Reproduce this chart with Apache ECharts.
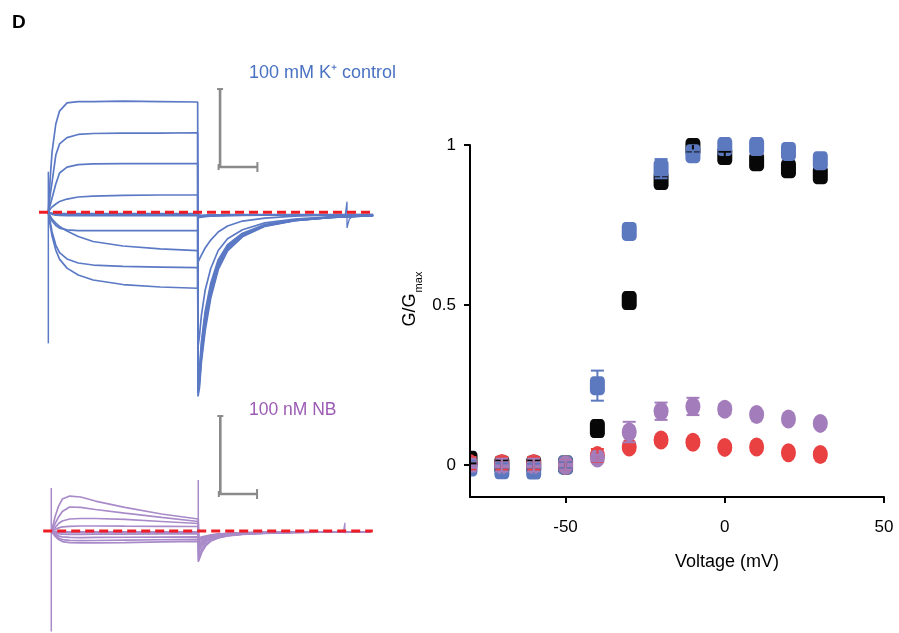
<!DOCTYPE html>
<html><head><meta charset="utf-8">
<script src="https://cdn.jsdelivr.net/npm/echarts@6/dist/echarts.min.js"></script>
<style>html,body{margin:0;padding:0;background:#fff}#c{width:899px;height:633px}</style>
</head><body><div id="c"></div>
<script>
// ===== Right panel: normalised conductance vs voltage =====
const voltages   = [-80, -70, -60, -50, -40, -30, -20, -10, 0, 10, 20, 30];
const gBlack     = [0.015, 0.0, 0.0, 0.0, 0.114, 0.514, 0.889, 0.992, 0.967, 0.948, 0.926, 0.907];
const gBlue      = [-0.006, -0.015, -0.016, 0.0, 0.248, 0.730, 0.926, 0.973, 0.995, 0.995, 0.980, 0.951];
const gRed       = [0.005, 0.005, 0.005, 0.0, 0.030, 0.056, 0.078, 0.071, 0.055, 0.056, 0.038, 0.033];
const gPurple    = [0.0, 0.0, 0.0, 0.0, 0.022, 0.103, 0.168, 0.183, 0.174, 0.158, 0.144, 0.130];
const semBlack   = [0.010, 0.015, 0.015, 0.012, 0.010, 0.015, 0.010, 0.012, 0.012, 0.010, 0.010, 0.008];
const semBlue    = [0.020, 0.020, 0.020, 0.010, 0.047, 0.010, 0.030, 0.010, 0.010, 0.010, 0.010, 0.010];
const semRed     = [0.020, 0.020, 0.020, 0.015, 0.020, 0.010, 0.010, 0.010, 0.010, 0.010, 0.010, 0.010];
const semPurple  = [0.020, 0.020, 0.020, 0.015, 0.010, 0.032, 0.027, 0.027, 0.015, 0.010, 0.010, 0.010];
const xTicks     = [-50, 0, 50];
const yTicks     = [0, 0.5, 1];

// ===== Left panels: current traces (time in ms, current in µA) =====
const tPulse = [0, 5, 10, 20, 30, 50, 80, 120, 200, 300, 400];
const tTail  = [401, 405, 410, 420, 435, 455, 480, 520, 580, 660, 760, 870];

// 100 mM K+ control — during the step
const ctlA = [0, 2.19, 3.87, 5.66, 6.49, 7.01, 7.10, 7.10, 7.13, 7.10, 7.07];
const ctlB = [0, 1.11, 1.94, 3.67, 4.38, 4.79, 4.99, 5.05, 5.08, 5.08, 5.10];
const ctlC = [0, 0.47, 0.92, 1.81, 2.52, 2.90, 3.06, 3.10, 3.12, 3.12, 3.12];
const ctlD = [0, 0.21, 0.34, 0.53, 0.69, 0.85, 0.98, 1.04, 1.08, 1.11, 1.11];
const ctlE1 = [0, -0.03, -0.05, -0.07, -0.08, -0.08, -0.09, -0.09, -0.09, -0.09, -0.09];
const ctlE2 = [0, -0.05, -0.10, -0.13, -0.15, -0.16, -0.17, -0.17, -0.17, -0.17, -0.17];
const ctlE3 = [0, -0.07, -0.13, -0.18, -0.20, -0.22, -0.22, -0.22, -0.22, -0.22, -0.22];
const ctlE4 = [0, -0.04, -0.08, -0.11, -0.12, -0.12, -0.13, -0.13, -0.13, -0.13, -0.13];
const ctlF = [0, -0.30, -0.56, -0.85, -1.01, -1.13, -1.17, -1.18, -1.18, -1.18, -1.18];
const ctlG = [0, -0.24, -0.43, -0.69, -0.91, -1.20, -1.55, -1.87, -2.16, -2.35, -2.46];
const ctlH = [0, -0.62, -1.26, -2.10, -2.58, -2.99, -3.25, -3.38, -3.47, -3.51, -3.55];
const ctlI = [0, -0.83, -1.52, -2.42, -3.00, -3.58, -4.02, -4.34, -4.63, -4.79, -4.87];
// 100 mM K+ control — tail currents
const ctlTailA = [-11.8, -11.2, -9.6, -7.6, -5.5, -3.68, -2.48, -1.57, -0.90, -0.54, -0.33, -0.21];
const ctlTailB = [-11.6, -10.9, -9.3, -7.3, -5.3, -3.55, -2.40, -1.52, -0.88, -0.53, -0.33, -0.21];
const ctlTailC = [-11.4, -10.7, -9.1, -7.1, -5.15, -3.45, -2.33, -1.48, -0.86, -0.52, -0.32, -0.21];
const ctlTailD = [-11.2, -10.5, -8.9, -6.9, -5.0, -3.35, -2.27, -1.45, -0.84, -0.51, -0.32, -0.20];
const ctlTailE1 = [-0.25, -0.24, -0.23, -0.21, -0.19, -0.18, -0.17, -0.16, -0.16, -0.16, -0.16, -0.16];
const ctlTailE2 = [-0.30, -0.29, -0.27, -0.25, -0.23, -0.21, -0.20, -0.19, -0.18, -0.18, -0.18, -0.18];
const ctlTailE3 = [-0.35, -0.33, -0.31, -0.28, -0.25, -0.23, -0.21, -0.20, -0.19, -0.19, -0.19, -0.19];
const ctlTailE4 = [-0.20, -0.20, -0.19, -0.18, -0.17, -0.16, -0.15, -0.15, -0.15, -0.15, -0.15, -0.15];
const ctlTailF = [-11.0, -10.3, -8.6, -6.6, -4.75, -3.20, -2.17, -1.39, -0.81, -0.50, -0.31, -0.20];
const ctlTailG = [-10.8, -10.0, -8.3, -6.35, -4.55, -3.05, -2.08, -1.34, -0.79, -0.49, -0.31, -0.20];
const ctlTailH = [-8.6, -7.9, -6.6, -5.0, -3.6, -2.45, -1.70, -1.12, -0.68, -0.43, -0.28, -0.19];
const ctlTailI = [-3.19, -2.99, -2.74, -2.29, -1.78, -1.26, -0.88, -0.56, -0.37, -0.24, -0.17, -0.14];
const ctlSpikeT = [0, 0];
const ctlSpikeI = [2.6, -8.4];
const ctlArtT = [795, 800, 800, 806, 815];
const ctlArtI = [-0.25, 0.68, -1.0, -0.45, -0.25];

// 100 nM NB — during the step
const nbA = [0, 0.38, 0.90, 1.60, 2.05, 2.24, 2.18, 1.92, 1.51, 1.09, 0.77];
const nbB = [0, 0.19, 0.45, 0.90, 1.25, 1.54, 1.51, 1.38, 1.15, 0.87, 0.61];
const nbC = [0, 0.10, 0.22, 0.48, 0.64, 0.77, 0.80, 0.80, 0.74, 0.61, 0.48];
const nbD = [0, 0.05, 0.10, 0.20, 0.26, 0.30, 0.32, 0.32, 0.31, 0.30, 0.29];
const nbE = [0, 0.0, -0.02, -0.03, -0.04, -0.05, -0.05, -0.05, -0.05, -0.05, -0.05];
const nbF = [0, -0.03, -0.06, -0.09, -0.10, -0.10, -0.10, -0.10, -0.10, -0.10, -0.10];
const nbG = [0, -0.06, -0.12, -0.18, -0.20, -0.21, -0.21, -0.20, -0.20, -0.19, -0.19];
const nbH = [0, -0.10, -0.20, -0.32, -0.38, -0.41, -0.42, -0.41, -0.40, -0.39, -0.38];
const nbI = [0, -0.13, -0.27, -0.45, -0.55, -0.60, -0.62, -0.61, -0.59, -0.56, -0.54];
const nbJ = [0, -0.16, -0.33, -0.55, -0.68, -0.74, -0.76, -0.76, -0.74, -0.70, -0.67];
// 100 nM NB — tail currents
const nbTailA = [-1.92, -1.67, -1.35, -0.96, -0.64, -0.45, -0.32, -0.22, -0.15, -0.10, -0.06, -0.05];
const nbTailB = [-1.75, -1.52, -1.24, -0.88, -0.59, -0.42, -0.30, -0.21, -0.14, -0.09, -0.06, -0.05];
const nbTailC = [-1.60, -1.40, -1.15, -0.82, -0.55, -0.39, -0.28, -0.20, -0.14, -0.09, -0.06, -0.05];
const nbTailD = [-1.30, -1.15, -0.95, -0.68, -0.46, -0.33, -0.24, -0.17, -0.12, -0.08, -0.06, -0.05];
const nbTailE = [-0.45, -0.42, -0.38, -0.32, -0.25, -0.19, -0.15, -0.12, -0.09, -0.07, -0.06, -0.05];
const nbTailF = [-0.55, -0.50, -0.45, -0.36, -0.28, -0.21, -0.16, -0.12, -0.09, -0.07, -0.06, -0.05];
const nbTailG = [-0.70, -0.62, -0.52, -0.39, -0.28, -0.21, -0.16, -0.12, -0.09, -0.07, -0.06, -0.05];
const nbTailH = [-0.85, -0.76, -0.64, -0.47, -0.33, -0.24, -0.18, -0.13, -0.10, -0.07, -0.06, -0.05];
const nbTailI = [-1.00, -0.88, -0.73, -0.53, -0.37, -0.27, -0.20, -0.15, -0.11, -0.08, -0.06, -0.05];
const nbTailJ = [-1.15, -1.02, -0.85, -0.61, -0.42, -0.30, -0.22, -0.16, -0.11, -0.08, -0.06, -0.05];
const nbSpikeT = [0, 0, 400, 400];
const nbSpikeI = [2.76, -6.45, 3.27, -1.99];
const nbArtT = [795, 799, 799, 805];
const nbArtI = [-0.05, 0.53, -0.13, -0.05];

// scale bars: [time origin ms, current origin µA]; lengths 100 ms, 5 µA
const ctlScaleOrigin = [460, 2.9];
const nbScaleOrigin  = [460, 2.37];
const scaleMs = 100, scaleUA = 5;
const baselineCtl = [-25, 875];
const baselineNb  = [-22, 875];

// ===== styling =====
const FONT = '"Liberation Sans", Arial, Helvetica, sans-serif';
const BLUE_TRACE = '#5b79c4';
const NB_TRACE = '#a98bc9';
const DASH_RED = '#ee1c24';
const zip = (a, b) => a.map((v, i) => [v, b[i]]);

function trace(pulse, tail, axis, color) {
  return {
    type: 'line', xAxisIndex: axis, yAxisIndex: axis, silent: true,
    data: zip(tPulse, pulse).concat(zip(tTail, tail)),
    symbol: 'none', clip: false, z: 2,
    lineStyle: { color: color, width: 1.7 }
  };
}
function plain(data, axis, color, width) {
  return { type: 'line', xAxisIndex: axis, yAxisIndex: axis, silent: true, data: data,
    symbol: 'none', clip: false, z: 2, lineStyle: { color: color, width: width } };
}
function baseline(xs, axis) {
  return { type: 'line', xAxisIndex: axis, yAxisIndex: axis, silent: true,
    data: xs.map(x => [x, 0]), symbol: 'none', clip: false, z: 6,
    lineStyle: { color: DASH_RED, width: 3, type: [9, 5] } };
}
function scaleBar(origin, axis) {
  return {
    type: 'custom', xAxisIndex: axis, yAxisIndex: axis, silent: true, z: 4, clip: false,
    data: [[origin[0], origin[1], origin[0] + scaleMs, origin[1] + scaleUA]],
    encode: { x: [0, 2], y: [1, 3] },
    renderItem: (params, api) => {
      const c = api.coord([api.value(0), api.value(1)]);
      const top = api.coord([api.value(0), api.value(3)]);
      const r = api.coord([api.value(2), api.value(1)]);
      const st = { stroke: '#8a8a8a', lineWidth: 2.6, fill: null };
      const cap = { stroke: '#8a8a8a', lineWidth: 2 };
      return { type: 'group', children: [
        { type: 'polyline', shape: { points: [top, c, r] }, style: st },
        { type: 'line', shape: { x1: top[0] - 3, y1: top[1], x2: top[0] + 3, y2: top[1] }, style: cap },
        { type: 'line', shape: { x1: c[0] - 1.5, y1: c[1] - 3, x2: c[0] - 1.5, y2: c[1] + 3 }, style: cap },
        { type: 'line', shape: { x1: r[0], y1: r[1] - 5, x2: r[0], y2: r[1] + 5 }, style: cap }
      ] };
    }
  };
}
function errBars(vals, sems, color, z) {
  return {
    type: 'custom', xAxisIndex: 2, yAxisIndex: 2, silent: true, z: z, clip: true,
    data: voltages.map((v, i) => [v, vals[i] - sems[i], vals[i] + sems[i]]),
    encode: { x: 0, y: [1, 2] },
    renderItem: (params, api) => {
      const x = api.value(0);
      const lo = api.coord([x, api.value(1)]);
      const hi = api.coord([x, api.value(2)]);
      const w = 6.5;
      const st = { stroke: color, lineWidth: 2 };
      return { type: 'group', children: [
        { type: 'line', shape: { x1: lo[0], y1: lo[1], x2: hi[0], y2: hi[1] }, style: st },
        { type: 'line', shape: { x1: lo[0] - w, y1: lo[1], x2: lo[0] + w, y2: lo[1] }, style: st },
        { type: 'line', shape: { x1: hi[0] - w, y1: hi[1], x2: hi[0] + w, y2: hi[1] }, style: st }
      ] };
    }
  };
}
function points(vals, symbol, color, z) {
  return { type: 'scatter', xAxisIndex: 2, yAxisIndex: 2, silent: true, z: z, clip: true,
    data: zip(voltages, vals), symbol: symbol, symbolSize: [15, 19],
    itemStyle: { color: color, opacity: 1 } };
}

const hiddenX = (min, max) => ({ type: 'value', min, max, show: false, splitLine: { show: false } });
const option = {
  animation: false,
  backgroundColor: '#fff',
  grid: [
    { left: 39, top: 56.3, width: 336, height: 343.2 },
    { left: 43.2, top: 406.2, width: 329.6, height: 226.2 },
    { left: 470, top: 145, width: 414, height: 352 }
  ],
  xAxis: [
    { gridIndex: 0, ...hiddenX(-25, 875) },
    { gridIndex: 1, ...hiddenX(-22, 875) },
    { gridIndex: 2, type: 'value', min: -80, max: 50, z: 60,
      axisLine: { show: true, onZero: false, lineStyle: { color: '#000', width: 2 } },
      axisTick: { show: true, length: 6, customValues: xTicks, lineStyle: { color: '#000', width: 2 } },
      axisLabel: { customValues: xTicks, color: '#000', fontSize: 17, fontFamily: FONT, margin: 22 },
      splitLine: { show: false } }
  ],
  yAxis: [
    { gridIndex: 0, ...hiddenX(-12, 10) },
    { gridIndex: 1, ...hiddenX(-6.5, 8) },
    { gridIndex: 2, type: 'value', min: -0.1, max: 1, z: 60,
      axisLine: { show: true, onZero: false, lineStyle: { color: '#000', width: 2 } },
      axisTick: { show: true, length: 6, customValues: yTicks, lineStyle: { color: '#000', width: 2 } },
      axisLabel: { customValues: yTicks, color: '#000', fontSize: 17, fontFamily: FONT, margin: 14 },
      splitLine: { show: false } }
  ],
  graphic: [
    // mask so the markers at the axis extent show only their inner half, as in the source figure
    { type: 'rect', z: 50, shape: { x: 460.5, y: 430, width: 9, height: 60 }, style: { fill: '#fff' } },
    { type: 'text', left: 12, top: 13, style: { text: 'D', font: 'bold 19px ' + FONT, fill: '#000' } },
    { type: 'text', x: 249, y: 73, style: { text: '100 mM K\u207A control', font: '18px ' + FONT, fill: '#4a72c2', verticalAlign: 'middle' } },
    { type: 'text', x: 249, y: 410, style: { text: '100 nM NB', font: '17.5px ' + FONT, fill: '#9c5cb4', verticalAlign: 'middle' } },
    { type: 'text', x: 727, y: 562, style: { text: 'Voltage (mV)', font: '18px ' + FONT, fill: '#000', align: 'center', verticalAlign: 'middle' } },
    { type: 'text', x: 410, y: 310, rotation: Math.PI / 2, style: { text: 'G/G', font: '18px ' + FONT, fill: '#000', align: 'center', verticalAlign: 'middle' } },
    { type: 'text', x: 419, y: 282, rotation: Math.PI / 2, style: { text: 'max', font: '11px ' + FONT, fill: '#000', align: 'center', verticalAlign: 'middle' } }
  ],
  series: [
    // control traces
    trace(ctlA, ctlTailA, 0, BLUE_TRACE), trace(ctlB, ctlTailB, 0, BLUE_TRACE),
    trace(ctlC, ctlTailC, 0, BLUE_TRACE), trace(ctlD, ctlTailD, 0, BLUE_TRACE),
    trace(ctlE1, ctlTailE1, 0, BLUE_TRACE), trace(ctlE2, ctlTailE2, 0, BLUE_TRACE),
    trace(ctlE3, ctlTailE3, 0, BLUE_TRACE), trace(ctlE4, ctlTailE4, 0, BLUE_TRACE),
    trace(ctlF, ctlTailF, 0, BLUE_TRACE), trace(ctlG, ctlTailG, 0, BLUE_TRACE),
    trace(ctlH, ctlTailH, 0, BLUE_TRACE), trace(ctlI, ctlTailI, 0, BLUE_TRACE),
    plain(zip(ctlSpikeT, ctlSpikeI), 0, BLUE_TRACE, 1.5),
    plain(zip(ctlArtT, ctlArtI), 0, BLUE_TRACE, 1.3),
    baseline(baselineCtl, 0),
    scaleBar(ctlScaleOrigin, 0),
    // NB traces
    trace(nbA, nbTailA, 1, NB_TRACE), trace(nbB, nbTailB, 1, NB_TRACE),
    trace(nbC, nbTailC, 1, NB_TRACE), trace(nbD, nbTailD, 1, NB_TRACE),
    trace(nbE, nbTailE, 1, NB_TRACE), trace(nbF, nbTailF, 1, NB_TRACE),
    trace(nbG, nbTailG, 1, NB_TRACE), trace(nbH, nbTailH, 1, NB_TRACE),
    trace(nbI, nbTailI, 1, NB_TRACE), trace(nbJ, nbTailJ, 1, NB_TRACE),
    plain([[nbSpikeT[0], nbSpikeI[0]], [nbSpikeT[1], nbSpikeI[1]]], 1, NB_TRACE, 1.5),
    plain([[nbSpikeT[2], nbSpikeI[2]], [nbSpikeT[3], nbSpikeI[3]]], 1, NB_TRACE, 1.5),
    plain(zip(nbArtT, nbArtI), 1, NB_TRACE, 1.3),
    baseline(baselineNb, 1),
    scaleBar(nbScaleOrigin, 1),
    // G/Gmax
    points(gBlack, 'roundRect', '#080808', 3),
    points(gBlue, 'roundRect', '#5c79bf', 4),
    points(gRed, 'circle', '#e94042', 5),
    points(gPurple, 'circle', '#a37dbb', 6),
    errBars(gBlack, semBlack, '#080808', 7),
    errBars(gBlue, semBlue, '#5c79bf', 7),
    errBars(gRed, semRed, '#e94042', 7),
    errBars(gPurple, semPurple, '#a37dbb', 7)
  ]
};
const chart = echarts.init(document.getElementById('c'));
chart.setOption(option);
</script></body></html>
